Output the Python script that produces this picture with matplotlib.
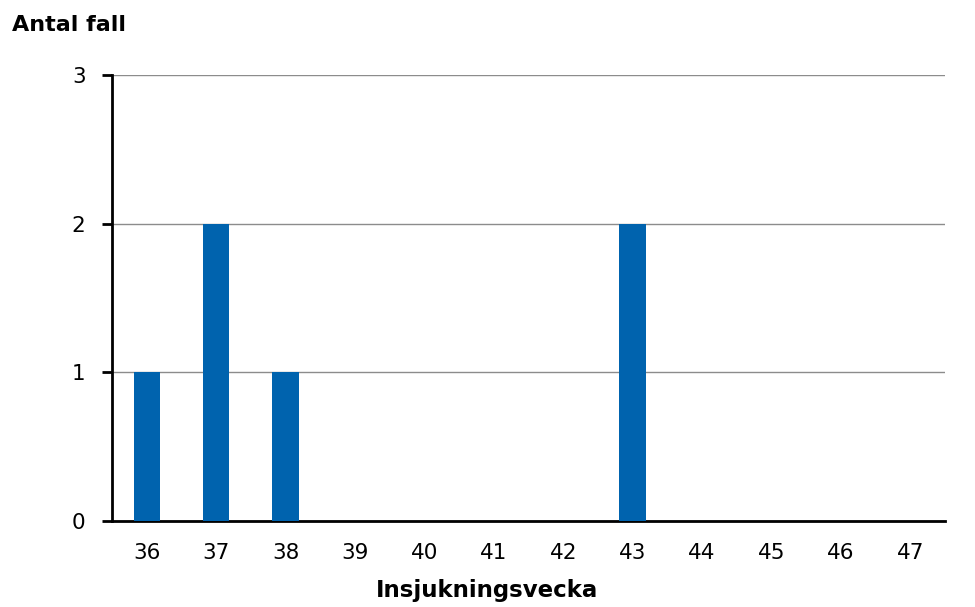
import matplotlib.pyplot as plt

weeks = ['36', '37', '38', '39', '40', '41', '42', '43', '44', '45', '46', '47']
cases = [1, 2, 1, 0, 0, 0, 0, 2, 0, 0, 0, 0]

bar_color = '#0063AE'

plt.rcParams['font.family'] = ['DejaVu Sans']

fig = plt.figure(figsize=(9.75, 6.07), dpi=100)
ax = fig.add_axes([112 / 975, 1 - 521 / 607, (945 - 112) / 975, (521 - 75) / 607])

x = list(range(len(weeks)))
ax.bar(x, cases, width=0.38, color=bar_color, zorder=3)

ax.set_xlim(-0.5, len(weeks) - 0.5)
ax.set_ylim(0, 3)
ax.set_yticks([0, 1, 2, 3])
ax.set_xticks(x)
ax.set_xticklabels(weeks)

ax.yaxis.grid(True, color='#8c8c8c', linewidth=1.0, zorder=0)
ax.set_axisbelow(True)

for side in ['top', 'right']:
    ax.spines[side].set_visible(False)
for side in ['left', 'bottom']:
    ax.spines[side].set_linewidth(2)
    ax.spines[side].set_color('black')

ax.tick_params(axis='x', length=0, pad=16, labelsize=15.5)
ax.tick_params(axis='y', length=7, width=2, pad=12, labelsize=15.5)

ax.set_xlabel('Insjukningsvecka', fontsize=16.5, fontweight='bold')
ax.xaxis.set_label_coords((487 - 112) / 833, -(590 - 521) / 446, transform=ax.transAxes)
ax.xaxis.label.set_va('center')
fig.text(12 / 975, 1 - 25 / 607, 'Antal fall', fontsize=16, fontweight='bold',
         ha='left', va='center')

fig.savefig('out.png', dpi=100)
